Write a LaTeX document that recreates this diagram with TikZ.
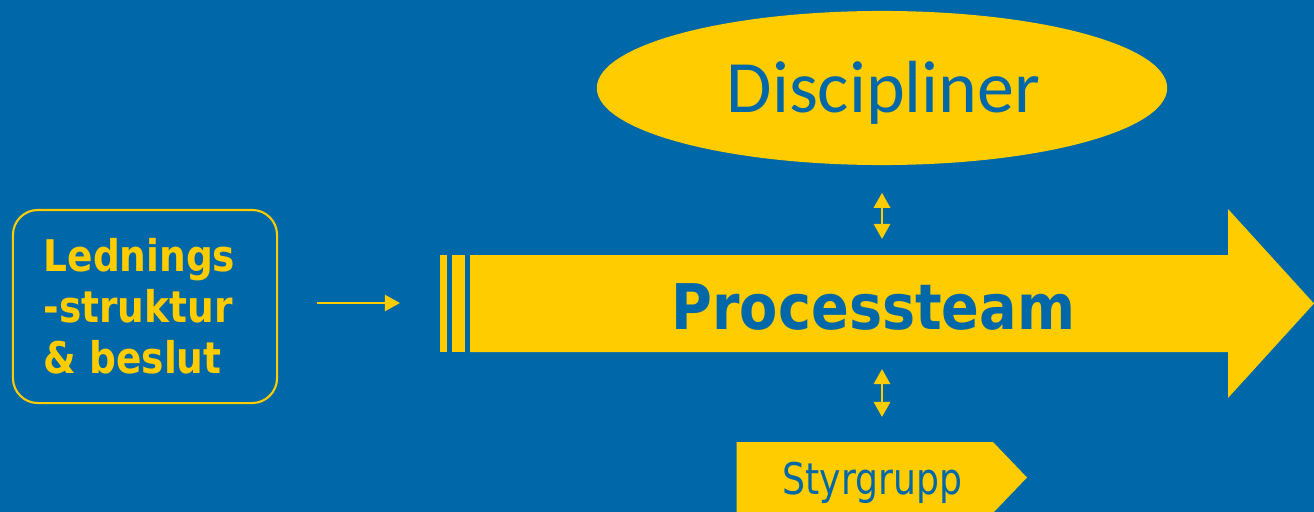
\documentclass[tikz,border=0pt]{standalone}
\usepackage{fontspec}
\usetikzlibrary{arrows.meta,shapes.geometric}
\newfontfamily\tahoma[FakeStretch=0.83]{DejaVu Sans}
\newfontfamily\tahomabold[FakeStretch=0.86]{DejaVu Sans Bold}
\newfontfamily\procfont[FakeStretch=0.885]{DejaVu Sans Bold}
\newfontfamily\calibri{Carlito}
\definecolor{bgblue}{RGB}{0,104,168}
\definecolor{yel}{RGB}{255,204,0}
\tikzset{
    dblarrow/.style={{Triangle[width=0.16cm,length=0.15cm]}-{Triangle[width=0.16cm,length=0.15cm]}, draw=yel, line width=0.8pt},
    onearrow/.style={-{Triangle[width=0.16cm,length=0.15cm]}, draw=yel, line width=0.65pt}
}
\begin{document}
\begin{tikzpicture}[x=0.01cm, y=-0.01cm]
        \useasboundingbox (0,0) rectangle (1314,512);
        \fill[bgblue] (0,0) rectangle (1314,512);
        \node[draw=yel, line width=0.6pt, rounded corners=0.25cm, minimum width=2.64cm, minimum height=1.93cm, inner sep=0] (ledbox) at (145,306.5) {};
        \node[anchor=west, align=left, text=yel, inner sep=0, font=\tahomabold\fontsize{12.4}{14.5}\selectfont] (ledtxt) at (43,306.5) {Lednings\\-struktur\\\& beslut};
        \fill[yel] (440,255) rectangle (446.5,352);
        \fill[yel] (452,255) rectangle (464.5,352);
        \fill[yel] (470,255) -- (1228,255) -- (1228,209) -- (1314,303.5) -- (1228,398) -- (1228,352) -- (470,352) -- cycle;
        \coordinate (bars) at (440,303);
        \node[anchor=base, text=bgblue, inner sep=0, font=\procfont\fontsize{17.9}{20}\selectfont] (proc) at (873.5,329) {Processteam};
        \node[ellipse, fill=yel, minimum width=5.7cm, minimum height=1.54cm, inner sep=0] (disc) at (882,88) {};
        \node[anchor=base, text=bgblue, inner sep=0, font=\calibri\fontsize{21}{24}\selectfont] (disctxt) at (883.5,113) {Discipliner};
        \fill[yel] (736.5,442) -- (993,442) -- (1027,477.5) -- (993,513) -- (736.5,513) -- cycle;
        \node[anchor=base, text=bgblue, inner sep=0, font=\tahoma\fontsize{12.4}{14}\selectfont] (styr) at (872.5,494) {Styrgrupp};
        \coordinate (bodytop) at (882,255);
        \coordinate (bodybot) at (882,352);
        \coordinate (styrtop) at (882,442);
        \draw[onearrow, shorten <=0.39cm, shorten >=0.4cm] (ledbox.east |- bars) -- (bars);
        \draw[dblarrow, shorten <=0.27cm, shorten >=0.16cm] (disc.south) -- (bodytop);
        \draw[dblarrow, shorten <=0.17cm, shorten >=0.25cm] (bodybot) -- (styrtop);
    \end{tikzpicture}
\end{document}
